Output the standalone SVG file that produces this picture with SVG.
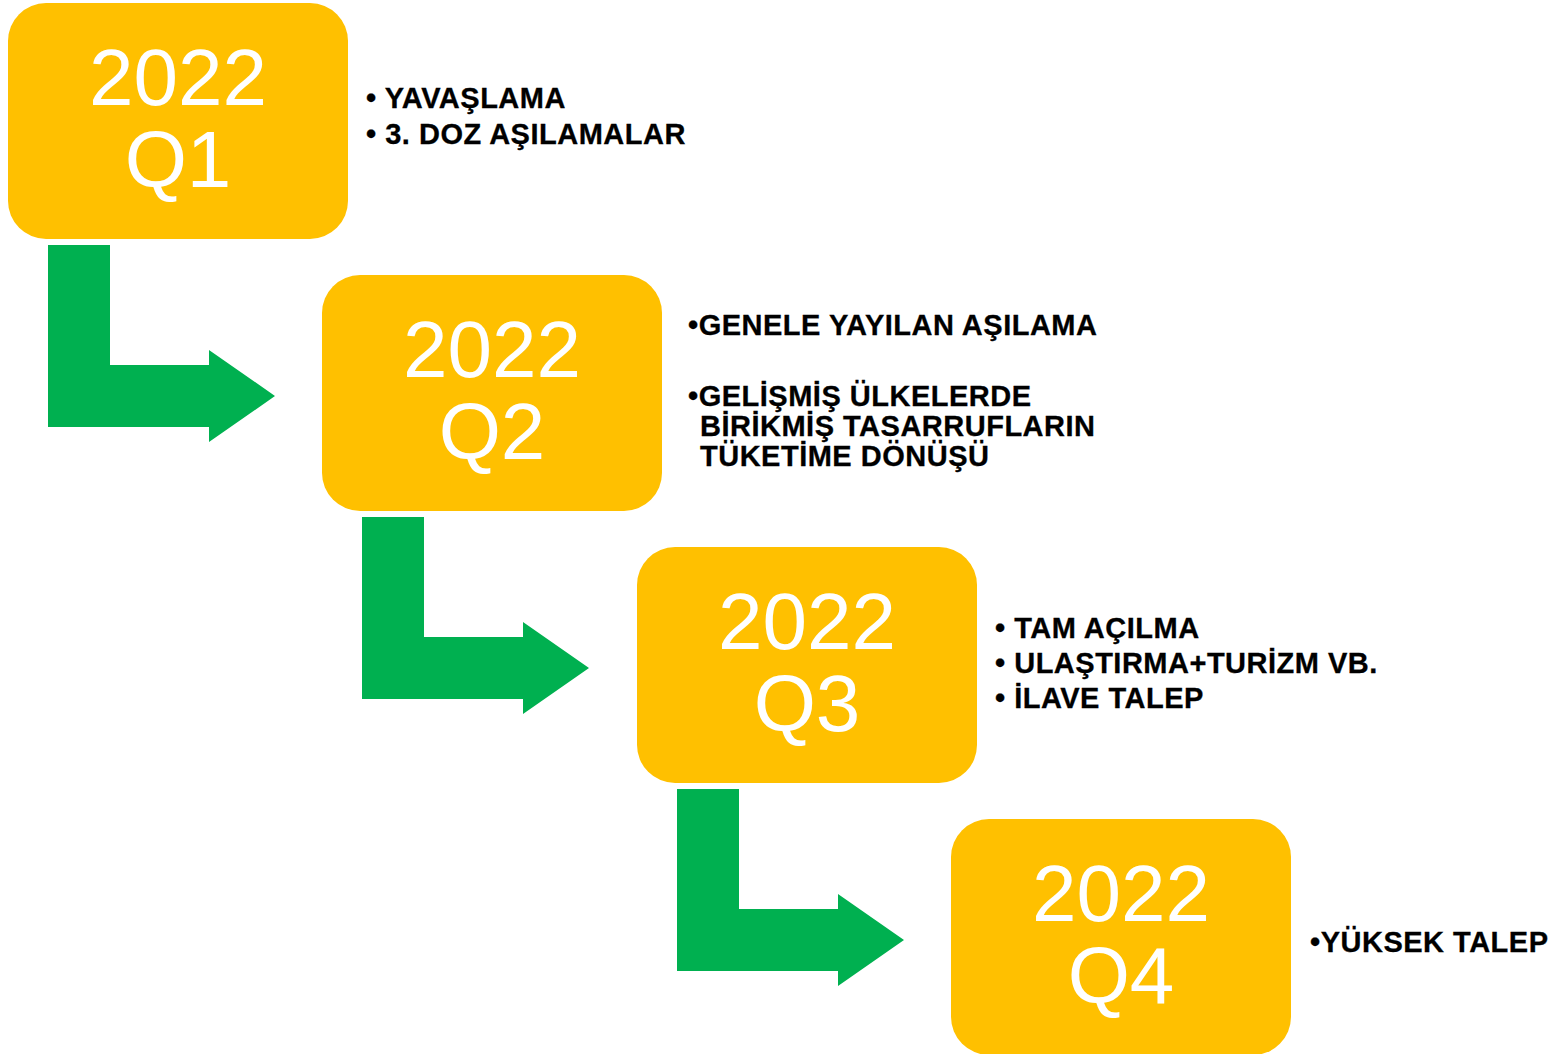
<svg xmlns="http://www.w3.org/2000/svg" width="1554" height="1054" viewBox="0 0 1554 1054">
<style>
.box{fill:#FFC000}
.big{font-family:"Liberation Sans",Arial,sans-serif;font-size:80px;fill:#FFFFFF;text-anchor:middle}
.lbl{font-family:"Liberation Sans",Arial,sans-serif;font-size:29px;font-weight:bold;fill:#000000;letter-spacing:0.5px;stroke:#000000;stroke-width:0.3px}
.arr{fill:#00B050}
</style>
<rect width="1554" height="1054" fill="#FFFFFF"/>
<g id="connectors">
<path class="arr" d="M48,245 H110 V365 H209 V350 L275,396 L209,442 V427 H48 Z"/>
<path class="arr" d="M362,517 H424 V637 H523 V622 L589,668 L523,714 V699 H362 Z"/>
<path class="arr" d="M677,789 H739 V909 H838 V894 L904,940 L838,986 V971 H677 Z"/>
</g>
<g id="q1">
<rect class="box" x="8" y="3" width="340" height="236" rx="38"/>
<text class="big" x="178" y="105">2022</text>
<text class="big" x="178" y="187">Q1</text>
<text class="lbl" x="366" y="108">• YAVAŞLAMA</text>
<text class="lbl" x="366" y="144">• 3. DOZ AŞILAMALAR</text>
</g>
<g id="q2">
<rect class="box" x="322" y="275" width="340" height="236" rx="38"/>
<text class="big" x="492" y="377">2022</text>
<text class="big" x="492" y="459">Q2</text>
<text class="lbl" x="688" y="335">•GENELE YAYILAN AŞILAMA</text>
<text class="lbl" x="688" y="406">•GELİŞMİŞ ÜLKELERDE</text>
<text class="lbl" x="700" y="436">BİRİKMİŞ TASARRUFLARIN</text>
<text class="lbl" x="700" y="466">TÜKETİME DÖNÜŞÜ</text>
</g>
<g id="q3">
<rect class="box" x="637" y="547" width="340" height="236" rx="38"/>
<text class="big" x="807" y="649">2022</text>
<text class="big" x="807" y="731">Q3</text>
<text class="lbl" x="995" y="638">• TAM AÇILMA</text>
<text class="lbl" x="995" y="673">• ULAŞTIRMA+TURİZM VB.</text>
<text class="lbl" x="995" y="708">• İLAVE TALEP</text>
</g>
<g id="q4">
<rect class="box" x="951" y="819" width="340" height="236" rx="38"/>
<text class="big" x="1121" y="921">2022</text>
<text class="big" x="1121" y="1003">Q4</text>
<text class="lbl" x="1310" y="952">•YÜKSEK TALEP</text>
</g>
</svg>
